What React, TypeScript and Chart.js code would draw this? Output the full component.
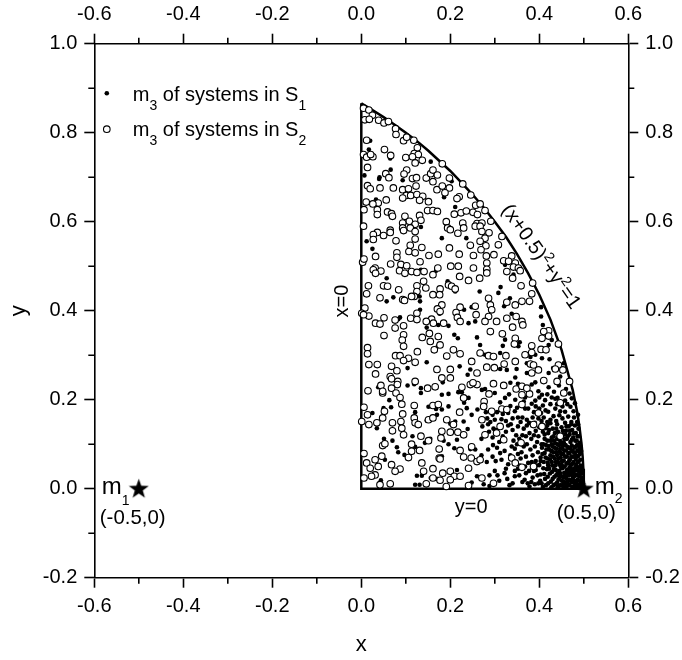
import React, { useEffect, useRef } from "react";
import { Chart, registerables } from "chart.js";

Chart.register(...registerables);

const xMajorTicks = [-0.6, -0.4, -0.2, 0, 0.2, 0.4, 0.6];
const xMinorTicks = [-0.5, -0.3, -0.1, 0.1, 0.3, 0.5];
const yMajorTicks = [-0.2, 0, 0.2, 0.4, 0.6, 0.8, 1.0];
const yMinorTicks = [-0.1, 0.1, 0.3, 0.5, 0.7, 0.9];

const primaries = [[-0.5, 0], [0.5, 0]];

const wedgeSides = [[0, 0.866], [0, 0], [0.5, 0]];
const arcBoundary = [
  [0, 0.866], [0.025, 0.851], [0.05, 0.835], [0.075, 0.818], [0.1, 0.8], [0.125, 0.781], [0.15, 0.76], [0.175, 0.737],
  [0.2, 0.714], [0.225, 0.688], [0.25, 0.661], [0.275, 0.632], [0.3, 0.6], [0.325, 0.566], [0.35, 0.527], [0.375, 0.484],
  [0.4, 0.436], [0.425, 0.38], [0.45, 0.312], [0.465, 0.258], [0.475, 0.222], [0.485, 0.173], [0.49, 0.141], [0.495, 0.1], [0.4975, 0.071], [0.499, 0.045], [0.5, 0],
];

const systemsS2 = [
  [.005,.855],[.017,.851],[.025,.839],[.008,.829],[.018,.830],[.039,.828],[.051,.822],[.061,.825],[.077,.809],[.078,.796],[.095,.782],[.102,.790],[.118,.783],[.012,.783],[.005,.751],[.012,.745],[.026,.746],[.021,.751],[.052,.762],[.066,.749],[.126,.766],[.119,.753],[.128,.751],[.100,.744],[.115,.746],[.121,.732],[.137,.738],[.182,.730],[.014,.722],[.055,.708],[.062,.699],[.102,.716],[.096,.707],[.115,.697],[.124,.699],[.146,.698],[.156,.708],[.161,.716],[.171,.705],[.161,.690],[.198,.698],[.228,.685],[.014,.681],[.020,.674],[.042,.676],[.072,.676],[.093,.672],[.106,.674],[.123,.680],[.170,.672],[.182,.680],[.198,.676],[.188,.665],[.101,.659],[.093,.653],[.111,.659],[.125,.661],[.138,.657],[.131,.648],[.151,.645],[.246,.660],[.220,.656],[.215,.652],[.257,.637],[.056,.649],[.038,.642],[.026,.640],[.011,.644],[.006,.627],[.036,.627],[.059,.622],[.068,.618],[.070,.612],[.036,.616],[.149,.625],[.161,.625],[.171,.623],[.209,.617],[.224,.620],[.236,.624],[.251,.621],[.098,.612],[.108,.601],[.093,.597],[.131,.614],[.134,.603],[.121,.594],[.191,.600],[.228,.597],[.260,.596],[.093,.586],[.110,.586],[.005,.590],[.065,.581],[.194,.586],[.230,.586],[.256,.590],[.261,.616],
  [.036,.576],[.027,.571],[.050,.569],[.027,.560],[.065,.576],[.095,.580],[.121,.578],[.121,.561],[.078,.557],[.110,.547],[.107,.533],[.121,.530],[.136,.542],[.152,.524],[.173,.527],[.198,.541],[.220,.527],[.245,.547],[.252,.524],[.217,.574],[.200,.582],[.132,.510],[.032,.522],[.080,.530],[.080,.520],[.066,.505],[.089,.504],[.102,.501],[.003,.509],[.006,.516],[.031,.496],[.027,.492],[.044,.489],[.032,.484],[.086,.490],[.098,.484],[.113,.488],[.125,.486],[.141,.488],[.161,.481],[.172,.496],[.201,.500],[.218,.500],[.221,.477],[.241,.468],[.252,.496],[.266,.473],[.140,.466],[.125,.456],[.145,.451],[.125,.443],[.119,.432],[.161,.436],[.177,.449],[.176,.436],[.196,.458],[.203,.455],[.211,.449],[.016,.456],[.050,.456],[.059,.455],[.084,.447],[.012,.438],[.042,.429],[.093,.425],[.097,.423],[.113,.432],[.181,.413],[.171,.404],[.177,.398],[.222,.408],[.213,.396],[.256,.410],[.258,.391],[.008,.406],[.001,.394],[.017,.388],[.005,.391],[.051,.384],[.032,.372],[.042,.370],[.076,.379],[.095,.366],[.111,.383],[.125,.394],[.125,.380],[.158,.381],[.146,.376],[.162,.372],[.185,.372],[.216,.385],[.222,.376],[.076,.361],[.051,.344],[.095,.346],[.092,.334],[.095,.320],[.137,.340],[.153,.349],[.173,.342],[.155,.331],[.164,.312],[.177,.323],[.126,.308],[.014,.317],[.014,.303],[.077,.299],[.087,.299],[.106,.293],[.192,.298],[.207,.312],[.222,.303],
  [.017,.279],[.036,.279],[.032,.258],[.068,.275],[.080,.265],[.095,.288],[.121,.284],[.170,.268],[.200,.268],[.181,.249],[.200,.249],[.260,.260],[.248,.286],[.121,.241],[.065,.252],[.068,.247],[.082,.241],[.081,.234],[.044,.232],[.015,.220],[.048,.215],[.068,.226],[.078,.215],[.087,.205],[.149,.226],[.166,.229],[.226,.228],[.245,.234],[.260,.234],[.251,.238],[.048,.219],[.230,.204],[.091,.190],[.119,.187],[.161,.187],[.173,.189],[.006,.183],[.014,.166],[.052,.174],[.048,.159],[.093,.168],[.119,.159],[.221,.172],[.192,.155],[.001,.151],[.017,.144],[.035,.148],[.070,.148],[.089,.151],[.091,.136],[.070,.130],[.121,.148],[.128,.144],[.151,.155],[.161,.159],[.207,.144],[.217,.127],[.200,.127],[.095,.121],[.134,.118],[.181,.129],[.179,.114],[.113,.100],[.048,.097],[.053,.101],[.230,.121],[.248,.094],[.151,.108],[.006,.079],[.175,.089],[.222,.086],[.230,.071],[.247,.069],[.260,.061],[.241,.046],[.046,.073],[.031,.065],[.012,.058],[.038,.050],[.020,.046],[.068,.054],[.031,.031],[.023,.028],[.087,.044],[.076,.039],[.131,.086],[.113,.084],[.106,.070],[.175,.069],[.177,.067],[.136,.058],[.140,.039],[.161,.045],[.183,.035],[.200,.039],[.209,.028],[.222,.028],[.161,.024],[.177,.019],[.146,.011],[.191,.005],[.006,.024],[.042,.009],[.065,.011],[.241,.007],[.200,.020],
  [.267,.640],[.278,.625],[.291,.601],[.271,.597],[.267,.590],[.287,.575],[.271,.578],[.316,.567],[.278,.563],[.267,.556],[.308,.548],[.280,.546],[.269,.537],[.298,.526],[.281,.523],[.338,.523],[.320,.512],[.282,.507],[.331,.511],[.346,.507],[.342,.498],[.282,.493],[.353,.496],
  [.282,.485],[.327,.488],[.340,.473],[.357,.490],[.385,.462],[.359,.456],[.383,.438],[.378,.421],[.361,.421],[.346,.413],[.327,.419],[.286,.428],[.290,.413],[.293,.402],[.286,.387],[.278,.376],[.304,.376],[.327,.383],[.348,.387],[.361,.376],[.363,.368],[.340,.363],[.317,.348],[.290,.353],[.421,.355],[.410,.353],[.421,.343],[.406,.338],[.346,.338],[.344,.325],[.443,.325],[.383,.321],[.404,.313],[.415,.312],[.368,.301],[.383,.306],[.321,.280],[.325,.299],[.346,.286],[.282,.273],[.299,.272],[.380,.280],[.387,.278],[.398,.267],[.383,.260],[.443,.278],[.436,.269],[.453,.267],[.286,.299],[.297,.297],[.267,.305],
  [.297,.236],[.320,.232],[.348,.224],[.361,.230],[.361,.211],[.378,.213],[.372,.226],[.455,.215],[.447,.193],[.468,.241],[.410,.243],[.287,.213],[.276,.196],[.275,.185],[.293,.174],[.316,.179],[.327,.178],[.398,.170],[.361,.189],[.271,.155],[.312,.140],[.278,.121],[.304,.125],[.387,.144],[.406,.140],[.320,.110],[.359,.103],[.338,.069],[.361,.048],[.297,.012],[.271,.024],[.346,.058],[.267,.065],[.440,.241],[.447,.118],[.387,.050],
];

const systemsS1 = [
  [.020,.782],[.017,.762],[.065,.742],[.156,.735],[.007,.704],[.041,.700],[.040,.696],[.066,.717],[.093,.693],[.203,.691],[.033,.650],[.186,.655],[.211,.633],[.134,.588],[.117,.595],[.191,.594],
  [.012,.556],[.025,.539],[.181,.563],[.236,.563],[.057,.473],[.072,.430],[.057,.421],[.132,.421],[.131,.432],[.132,.402],[.087,.385],[.083,.381],[.042,.370],[.076,.362],[.147,.362],[.176,.393],[.173,.368],[.196,.366],[.209,.346],[.217,.338],[.260,.340],[.134,.492],[.168,.490],[.194,.466],[.211,.443],[.231,.402],[.248,.408],[.241,.372],[.256,.376],[.172,.320],[.266,.443],
  [.104,.271],[.147,.284],[.221,.275],[.239,.256],[.245,.268],[.104,.232],[.119,.235],[.038,.228],[.063,.199],[.134,.226],[.134,.215],[.196,.213],[.183,.239],[.218,.217],[.226,.217],[.241,.204],[.181,.211],[.050,.181],[.067,.183],[.025,.170],[.121,.172],[.151,.184],[.196,.185],[.231,.193],[.237,.181],[.261,.178],[.168,.179],[.181,.178],[.170,.166],[.248,.166],[.230,.151],[.211,.151],[.200,.146],[.147,.153],[.035,.136],[.239,.134],[.051,.112],[.070,.108],[.115,.118],[.155,.112],[.143,.103],[.196,.100],[.215,.110],[.209,.091],[.080,.093],[.083,.082],[.097,.076],[.121,.094],[.185,.108],[.245,.089],[.256,.088],[.053,.065],[.125,.029],[.136,.029],[.170,.022],[.044,.019],[.121,.009],[.131,.009],[.248,.014],[.260,.028],[.181,.073],[.215,.042],[.156,.024],
  [.323,.503],[.313,.453],[.308,.440],[.334,.428],[.342,.481],[.321,.410],[.404,.408],[.404,.387],[.408,.368],[.338,.393],[.323,.335],[.356,.329],[.353,.320],[.318,.321],[.312,.305],[.372,.282],[.380,.296],[.391,.301],[.406,.293],[.423,.291],[.428,.334],[.421,.323],[.278,.301],[.312,.269],[.327,.267],[.349,.269],[.346,.250],[.372,.260],[.431,.271],[.455,.282],[.421,.260],[.447,.252],[.267,.323],
  [.271,.222],[.278,.224],[.312,.194],[.323,.204],[.346,.200],[.365,.196],[.383,.191],[.391,.198],[.406,.211],[.398,.219],[.383,.234],[.391,.239],[.300,.215],[.335,.238],[.352,.236],[.421,.228],[.433,.218],[.444,.232],[.460,.224],[.468,.214],[.473,.203],[.428,.205],[.413,.199],[.458,.198],[.441,.204],[.400,.205],
  [.280,.172],[.295,.166],[.305,.172],[.318,.168],[.330,.170],[.345,.174],[.352,.160],[.375,.180],[.388,.172],[.400,.180],[.414,.176],[.420,.173],[.432,.163],[.447,.174],[.458,.173],[.477,.174],[.480,.192],[.470,.184],[.463,.190],[.440,.190],[.425,.190],[.408,.187],[.392,.185],[.368,.180],[.283,.158],[.300,.155],[.315,.156],[.325,.152],[.340,.158],[.358,.150],[.372,.155],[.385,.160],[.398,.158],[.410,.160],[.425,.155],[.438,.152],[.452,.158],[.465,.162],[.478,.160],[.487,.166],[.485,.150],[.472,.150],[.445,.165],[.418,.150],[.405,.152],[.350,.182],[.335,.186],[.290,.150],
  [.272,.140],[.285,.145],[.297,.135],[.287,.128],[.270,.112],[.295,.115],[.310,.105],[.325,.128],[.330,.142],[.340,.132],[.352,.140],[.348,.120],[.365,.135],[.372,.142],[.378,.125],[.370,.118],[.355,.112],[.382,.112],[.392,.130],[.398,.118],[.395,.105],[.408,.128],[.412,.112],[.405,.100],[.418,.142],[.420,.125],[.425,.108],[.430,.135],[.432,.118],[.436,.102],[.440,.145],[.442,.128],[.445,.110],[.450,.138],[.452,.120],[.455,.104],[.458,.148],[.460,.130],[.462,.112],[.466,.140],[.468,.122],[.470,.105],[.474,.132],[.476,.115],[.480,.142],[.482,.125],[.484,.108],[.488,.135],[.489,.118],[.491,.103],[.425,.147],[.415,.136],[.435,.125],[.447,.100],[.458,.122],[.472,.145],[.440,.112],[.428,.100],
  [.270,.075],[.285,.088],[.282,.060],[.295,.072],[.305,.092],[.315,.065],[.322,.085],[.330,.055],[.338,.095],[.352,.078],[.345,.090],[.358,.068],[.365,.095],[.370,.072],[.375,.058],[.380,.088],[.385,.075],[.390,.095],[.392,.062],[.397,.082],[.400,.053],[.403,.070],[.406,.092],[.410,.060],[.412,.080],[.415,.098],[.418,.068],[.420,.052],[.422,.088],[.425,.075],[.428,.060],[.430,.095],[.432,.082],[.435,.068],[.436,.052],[.438,.090],[.440,.076],[.442,.060],[.444,.098],[.446,.084],[.448,.070],[.450,.055],[.452,.092],[.454,.078],[.455,.063],[.457,.050],[.459,.098],[.460,.086],[.462,.072],[.464,.058],[.466,.092],[.468,.080],[.469,.066],[.471,.053],[.473,.097],[.474,.085],[.476,.072],[.477,.060],[.479,.092],[.480,.080],[.482,.067],[.483,.053],[.485,.098],[.486,.086],[.487,.073],[.488,.060],[.490,.092],[.491,.078],[.492,.065],[.493,.052],[.494,.085],
  [.275,.010],[.288,.030],[.300,.040],[.310,.018],[.322,.035],[.333,.008],[.345,.028],[.352,.045],[.362,.015],[.370,.035],[.378,.005],[.385,.025],[.392,.042],[.398,.012],[.403,.032],[.408,.004],[.413,.022],[.417,.044],[.420,.012],[.424,.034],[.427,.003],[.430,.022],[.433,.044],[.436,.010],[.438,.030],[.441,.002],[.443,.020],[.445,.040],[.448,.008],[.450,.028],[.452,.046],[.454,.016],[.456,.036],[.458,.002],[.460,.024],[.462,.042],[.464,.010],[.466,.030],[.468,.048],[.470,.018],[.472,.038],[.474,.004],[.476,.026],[.478,.044],[.480,.012],[.482,.032],[.484,.002],[.486,.020],[.488,.040],[.490,.008],[.491,.028],[.493,.046],[.494,.014],[.495,.034],[.497,.004],[.497,.022],[.498,.012],
  [.462,.006],[.468,.020],[.473,.014],[.478,.028],[.484,.016],[.487,.030],[.490,.018],[.493,.006],[.495,.024],[.456,.012],[.451,.018],[.446,.026],[.441,.034],[.458,.030],[.465,.038],[.471,.046],[.477,.036],[.483,.042],[.489,.048],[.494,.040],[.480,.006],[.475,.020],[.470,.032],[.463,.017],
  [.405,.012],[.411,.033],[.415,.008],[.419,.027],[.422,.045],[.426,.016],[.429,.038],[.432,.008],[.434,.027],[.437,.042],[.440,.014],[.444,.006],[.447,.034],[.449,.048],[.453,.006],[.455,.026],[.459,.014],[.461,.034],[.467,.008],[.469,.040],[.474,.030],[.479,.018],[.481,.048],[.485,.030],[.486,.008],[.492,.036],[.409,.046],[.402,.018],[.396,.030],[.390,.010],[.394,.052],[.388,.040],[.382,.015],
  [.403,.062],[.407,.078],[.409,.100],[.414,.070],[.416,.088],[.419,.058],[.421,.096],[.424,.066],[.427,.085],[.429,.052],[.431,.072],[.434,.092],[.437,.060],[.439,.082],[.441,.100],[.443,.068],[.445,.054],[.447,.090],[.449,.078],[.451,.062],[.453,.100],[.456,.086],[.458,.072],[.461,.056],[.463,.094],[.465,.080],[.467,.062],[.470,.090],[.472,.072],[.475,.056],[.478,.082],[.481,.094],[.484,.074],[.486,.060],[.489,.084],[.492,.094],
  [.412,.122],[.418,.108],[.422,.132],[.428,.115],[.433,.108],[.438,.135],[.443,.118],[.448,.105],[.453,.130],[.457,.112],[.461,.140],[.464,.118],[.469,.130],[.473,.110],[.478,.124],[.481,.108],[.486,.118],[.487,.145],
  [.296,.098],[.302,.062],[.312,.080],[.325,.045],[.335,.075],[.345,.040],[.350,.100],[.356,.052],[.360,.082],[.368,.050],[.372,.100],[.377,.040],[.383,.060],[.288,.006],[.306,.030],[.328,.022],[.340,.012],[.355,.030],[.367,.020],[.374,.012],[.362,.120],[.342,.108],[.318,.118],[.302,.132],[.388,.120],[.400,.138],[.377,.148],[.336,.145],[.362,.160],[.390,.148],[.404,.170],[.436,.180],[.452,.185],[.436,.202],[.418,.212],[.368,.205],[.332,.212],
];

const toXY = (pts: number[][]) => pts.map(([x, y]) => ({ x, y }));
const FONT = '"Liberation Sans", Arial, sans-serif';
const font = (size: number) => `${size}px ${FONT}`;

type Run = { t: string; size: number; dy?: number };

function drawRuns(ctx: CanvasRenderingContext2D, runs: Run[], x: number, y: number, angle = 0) {
  ctx.save();
  ctx.translate(x, y);
  ctx.rotate(angle);
  ctx.textAlign = "left";
  ctx.textBaseline = "alphabetic";
  ctx.fillStyle = "#000";
  let cx = 0;
  for (const r of runs) {
    ctx.font = font(r.size);
    ctx.fillText(r.t, cx, r.dy ?? 0);
    cx += ctx.measureText(r.t).width;
  }
  ctx.restore();
}

function makeStar(size: number) {
  const c = document.createElement("canvas");
  c.width = size;
  c.height = size;
  const g = c.getContext("2d")!;
  const m = size / 2;
  g.beginPath();
  for (let i = 0; i < 10; i++) {
    const r = i % 2 === 0 ? m : m * 0.4;
    const a = -Math.PI / 2 + (i * Math.PI) / 5;
    const px = m + r * Math.cos(a);
    const py = m + 0.5 + r * Math.sin(a);
    if (i === 0) g.moveTo(px, py);
    else g.lineTo(px, py);
  }
  g.closePath();
  g.fillStyle = "#000";
  g.fill();
  return c;
}

const annotations = {
  id: "annotations",
  afterDatasetsDraw(chart: any) {
    const { ctx, scales } = chart;
    const { x: sx, y: sy } = scales;
    // minor ticks on all four sides
    ctx.save();
    ctx.strokeStyle = "#000";
    ctx.lineWidth = 1.6;
    ctx.beginPath();
    for (const v of xMinorTicks) {
      const p = sx.getPixelForValue(v);
      ctx.moveTo(p, sy.bottom);
      ctx.lineTo(p, sy.bottom + 6);
      ctx.moveTo(p, sy.top);
      ctx.lineTo(p, sy.top - 6);
    }
    for (const v of yMinorTicks) {
      const p = sy.getPixelForValue(v);
      ctx.moveTo(sx.left, p);
      ctx.lineTo(sx.left - 6, p);
      ctx.moveTo(sx.right, p);
      ctx.lineTo(sx.right + 6, p);
    }
    ctx.stroke();

    // legend
    const lx = sx.left + 12.5;
    const r1 = sy.top + 49.5;
    const r2 = sy.top + 85.5;
    ctx.fillStyle = "#000";
    ctx.beginPath();
    ctx.arc(lx, r1, 2.3, 0, Math.PI * 2);
    ctx.fill();
    ctx.fillStyle = "#fff";
    ctx.lineWidth = 1.1;
    ctx.beginPath();
    ctx.arc(lx, r2, 3.3, 0, Math.PI * 2);
    ctx.fill();
    ctx.stroke();
    ctx.restore();

    const legendRuns = (s: string): Run[] => [
      { t: "m", size: 20 },
      { t: "3", size: 14, dy: 9 },
      { t: " of systems in S", size: 20 },
      { t: s, size: 14, dy: 9 },
    ];
    drawRuns(ctx, legendRuns("1"), sx.left + 38.5, r1 + 7.7);
    drawRuns(ctx, legendRuns("2"), sx.left + 38.5, r2 + 7);

    // primaries
    const m1x = sx.getPixelForValue(-0.5);
    const m2x = sx.getPixelForValue(0.5);
    const y0 = sy.getPixelForValue(0);
    drawRuns(ctx, [{ t: "m", size: 24 }, { t: "1", size: 14, dy: 11 }], m1x - 37, y0 + 5);
    drawRuns(ctx, [{ t: "m", size: 24 }, { t: "2", size: 14, dy: 9 }], m2x + 11, y0 + 5);
    drawRuns(ctx, [{ t: "(-0.5,0)", size: 20.4 }], m1x - 39, y0 + 35);
    drawRuns(ctx, [{ t: "(0.5,0)", size: 20.4 }], m2x - 27, y0 + 30);

    // boundary labels
    drawRuns(ctx, [{ t: "y=0", size: 20 }], sx.getPixelForValue(0.21), y0 + 24);
    drawRuns(ctx, [{ t: "x=0", size: 20 }], sx.left + 253.5, sy.getPixelForValue(0.385), -Math.PI / 2);
    drawRuns(
      ctx,
      [
        { t: "(x+0.5)", size: 20 },
        { t: "2", size: 14, dy: -8 },
        { t: "+y", size: 20 },
        { t: "2", size: 14, dy: -8 },
        { t: "=1", size: 20 },
      ],
      sx.getPixelForValue(0.314),
      sy.getPixelForValue(0.627),
      (55 * Math.PI) / 180
    );
  },
};

export default function App() {
  const ref = useRef<HTMLCanvasElement>(null);
  useEffect(() => {
    document.body.style.margin = "0";
    const star = makeStar(21);
    const axisBase = (min: number, max: number, majors: number[], extra: any) => ({
      type: "linear",
      min,
      max,
      border: { display: true, color: "#000", width: 1.6 },
      grid: { display: true, drawOnChartArea: false, drawTicks: true, tickLength: 10, tickColor: "#000", tickWidth: 1.6 },
      afterBuildTicks: (s: any) => { s.ticks = majors.map((value) => ({ value })); },
      ticks: {
        padding: 7,
        color: "#000",
        font: { family: FONT, size: 20 },
        maxRotation: 0,
        autoSkip: false,
        callback: (v: number) => (Math.abs(v) < 1e-9 ? "0.0" : Number(v).toFixed(1)),
      },
      ...extra,
    });
    const chart = new Chart(ref.current!, {
      type: "scatter",
      data: {
        datasets: [
          { label: "m3 of systems in S2", order: 1, data: toXY(systemsS2), pointRadius: 3.3, pointBorderWidth: 1.1, pointBackgroundColor: "#fff", pointBorderColor: "#000" },
          { label: "m3 of systems in S1", order: 2, data: toXY(systemsS1), pointRadius: 2.3, pointBorderWidth: 0, pointBackgroundColor: "#000", pointBorderColor: "#000" },
          { label: "x=0, y=0", order: 3, data: toXY(wedgeSides), showLine: true, borderColor: "#000", borderWidth: 2.5, pointRadius: 0, tension: 0 },
          { label: "(x+0.5)^2+y^2=1", order: 3, data: toXY(arcBoundary), showLine: true, borderColor: "#000", borderWidth: 2.5, pointRadius: 0, tension: 0 },
          { label: "m1, m2", order: 0, data: toXY(primaries), pointStyle: star as any, pointRadius: 10 },
        ],
      },
      options: {
        responsive: false,
        animation: false,
        layout: { padding: 0 },
        plugins: { legend: { display: false }, tooltip: { enabled: false } },
        scales: {
          x: axisBase(-0.6, 0.6, xMajorTicks, {
            axis: "x",
            position: "bottom",
            title: { display: true, text: "x", color: "#000", font: { family: FONT, size: 22 }, padding: { top: 0, bottom: 2 } },
            afterFit: (s: any) => { s.height = 82.3; },
          }),
          x2: axisBase(-0.6, 0.6, xMajorTicks, {
            axis: "x",
            position: "top",
            afterFit: (s: any) => { s.height = 43.7; },
          }),
          y: axisBase(-0.2, 1.0, yMajorTicks, {
            axis: "y",
            position: "left",
            title: { display: true, text: "y", color: "#000", font: { family: FONT, size: 22 }, padding: { top: 6, bottom: 0 } },
            afterFit: (s: any) => { s.width = 94.3; },
          }),
          y2: axisBase(-0.2, 1.0, yMajorTicks, {
            axis: "y",
            position: "right",
            afterFit: (s: any) => { s.width = 53.7; },
          }),
        },
      } as any,
      plugins: [annotations as any],
    } as any);
    return () => chart.destroy();
  }, []);
  return <canvas ref={ref} width={682} height={660} style={{ display: "block", width: 682, height: 660 }} />;
}
